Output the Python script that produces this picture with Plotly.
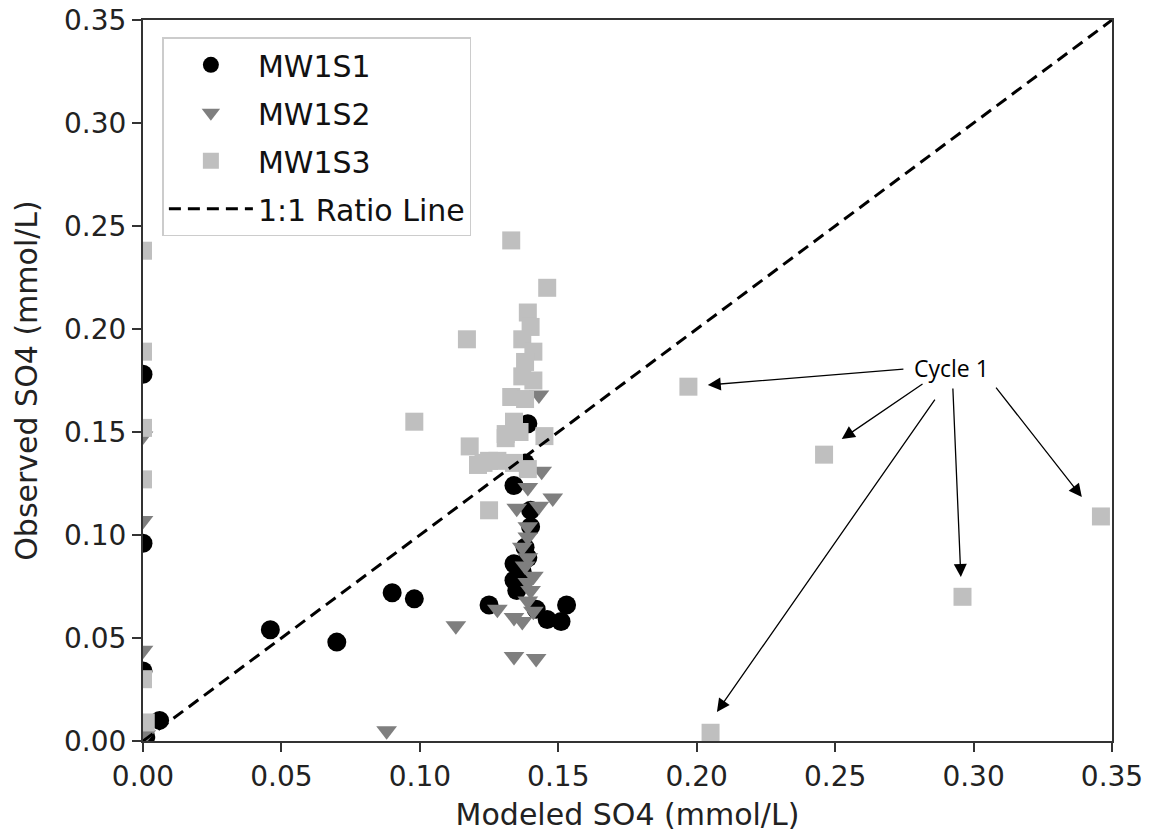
import plotly.graph_objects as go

# ---- data ----
s1_x = [0.000, 0.000, 0.000, 0.001, 0.006, 0.046, 0.070, 0.090, 0.098, 0.125,
        0.134, 0.139, 0.140, 0.140, 0.138, 0.134, 0.134, 0.135, 0.142, 0.146,
        0.151, 0.153, 0.138, 0.139, 0.137]
s1_y = [0.178, 0.096, 0.034, 0.002, 0.010, 0.054, 0.048, 0.072, 0.069, 0.066,
        0.124, 0.154, 0.112, 0.104, 0.094, 0.086, 0.078, 0.073, 0.064, 0.059,
        0.058, 0.066, 0.135, 0.089, 0.082]

s2_x = [0.000, 0.000, 0.000, 0.000, 0.001, 0.088, 0.113, 0.128, 0.134, 0.142,
        0.134, 0.137, 0.139, 0.140, 0.139, 0.141, 0.138, 0.139, 0.139, 0.139,
        0.135, 0.143, 0.148, 0.139, 0.144, 0.143, 0.141, 0.137]
s2_y = [0.148, 0.107, 0.044, 0.010, 0.003, 0.005, 0.056, 0.064, 0.041, 0.040,
        0.060, 0.058, 0.068, 0.073, 0.077, 0.080, 0.085, 0.089, 0.099, 0.104,
        0.113, 0.114, 0.118, 0.123, 0.131, 0.168, 0.063, 0.094]

s3_x = [0.000, 0.000, 0.000, 0.000, 0.000, 0.001, 0.098, 0.117, 0.118, 0.121,
        0.125, 0.125, 0.133, 0.146, 0.139, 0.140, 0.137, 0.141, 0.138, 0.137,
        0.141, 0.133, 0.138, 0.134, 0.131, 0.145, 0.131, 0.136, 0.123, 0.128,
        0.134, 0.139, 0.197, 0.246, 0.296, 0.205, 0.346]
s3_y = [0.238, 0.189, 0.152, 0.127, 0.030, 0.009, 0.155, 0.195, 0.143, 0.134,
        0.136, 0.112, 0.243, 0.220, 0.208, 0.201, 0.195, 0.189, 0.184, 0.177,
        0.175, 0.167, 0.166, 0.155, 0.149, 0.148, 0.147, 0.150, 0.135, 0.136,
        0.135, 0.132, 0.172, 0.139, 0.070, 0.004, 0.109]

ratio_x = [0.0, 0.35]
ratio_y = [0.0, 0.35]

tick_vals = [0.00, 0.05, 0.10, 0.15, 0.20, 0.25, 0.30, 0.35]
tick_text = ["0.00", "0.05", "0.10", "0.15", "0.20", "0.25", "0.30", "0.35"]

# "Cycle 1" annotation: label position and arrow tails/heads
cycle_label = (0.2922, 0.1810)
arrow_tail_x = [0.2752, 0.2821, 0.2864, 0.2925, 0.3077]
arrow_tail_y = [0.1806, 0.1738, 0.1665, 0.1718, 0.1723]
arrow_head_x = [0.2040, 0.2524, 0.2073, 0.2954, 0.3391]
arrow_head_y = [0.1728, 0.1466, 0.0141, 0.0796, 0.1184]

FONT = "DejaVu Sans"

fig = go.Figure()
fig.add_trace(go.Scatter(x=s1_x, y=s1_y, mode="markers", name="MW1S1",
                         legendgroup="a",
                         marker=dict(symbol="circle", size=19, color="#000000",
                                     line=dict(width=0))))
fig.add_trace(go.Scatter(x=s2_x, y=s2_y, mode="markers", name="MW1S2",
                         legendgroup="b",
                         marker=dict(symbol="triangle-down", size=18, color="#7f7f7f",
                                     line=dict(width=0))))
fig.add_trace(go.Scatter(x=s3_x, y=s3_y, mode="markers", name="MW1S3",
                         legendgroup="c",
                         marker=dict(symbol="square", size=18, color="#bfbfbf",
                                     line=dict(width=0))))
fig.add_trace(go.Scatter(x=ratio_x, y=ratio_y, mode="lines", name="1:1 Ratio Line",
                         legendgroup="d",
                         line=dict(color="#000000", width=3, dash="12px,7px")))

annotations = [dict(x=cycle_label[0], y=cycle_label[1], xref="x", yref="y",
                    text="Cycle 1", showarrow=False,
                    font=dict(family="Open Sans", size=23, color="#000000"))]
for tx, ty, hx, hy in zip(arrow_tail_x, arrow_tail_y, arrow_head_x, arrow_head_y):
    annotations.append(dict(x=hx, y=hy, ax=tx, ay=ty, xref="x", yref="y",
                            axref="x", ayref="y", text="", showarrow=True,
                            arrowhead=2, arrowsize=2.0, arrowwidth=1.3,
                            arrowcolor="#000000", standoff=0, startstandoff=0))

axis_common = dict(
    range=[0, 0.35], tickvals=tick_vals, ticktext=tick_text,
    showgrid=False, zeroline=False, automargin=False,
    showline=True, linecolor="#333333", linewidth=2, mirror=True,
    ticks="outside", ticklen=9, tickwidth=2, tickcolor="#333333",
    tickfont=dict(family=FONT, size=28, color="#222222"),
)

fig.update_layout(
    width=1149, height=833,
    margin=dict(l=143, r=37, t=20, b=92),
    paper_bgcolor="white", plot_bgcolor="white",
    font=dict(family=FONT, color="#222222"),
    xaxis=dict(axis_common, title=dict(text="Modeled SO4 (mmol/L)",
                                       font=dict(family=FONT, size=30), standoff=12)),
    yaxis=dict(axis_common, title=dict(text="Observed SO4 (mmol/L)",
                                       font=dict(family=FONT, size=30), standoff=18)),
    legend=dict(x=0.02, y=0.976, xanchor="left", yanchor="top",
                bgcolor="rgba(255,255,255,0.9)", bordercolor="#cccccc", borderwidth=1.5,
                font=dict(family=FONT, size=30, color="#111111"),
                traceorder="grouped", tracegroupgap=6, itemwidth=84),
    annotations=annotations,
    showlegend=True,
)

fig.write_html("out.html")
